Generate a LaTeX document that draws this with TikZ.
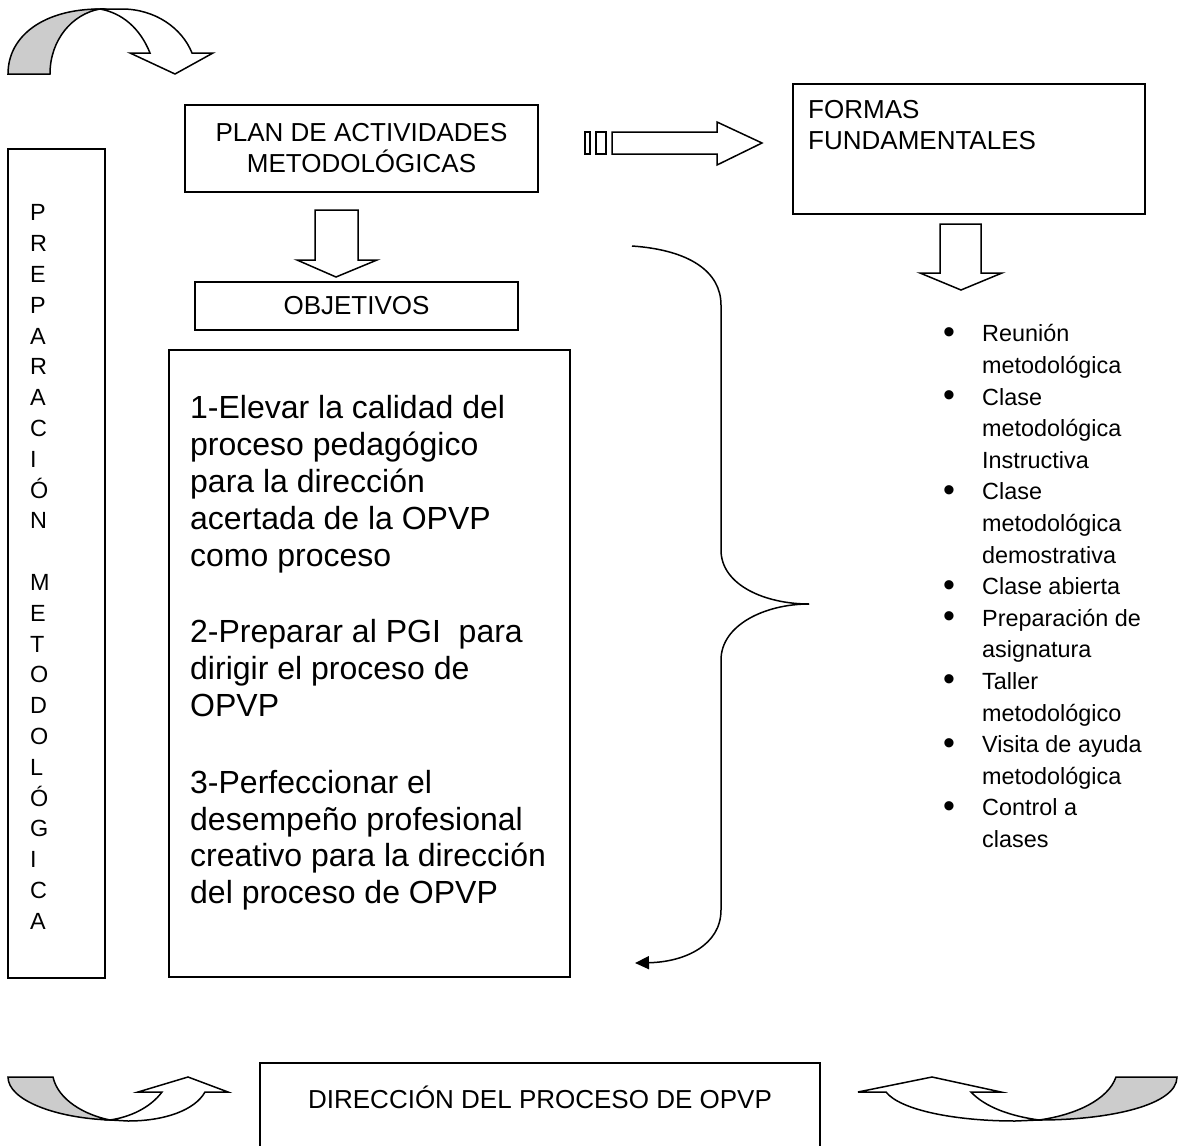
\documentclass[tikz,border=0pt]{standalone}
\usepackage{fontspec}
\usepackage{graphicx}
\setmainfont{Liberation Sans}
\usetikzlibrary{arrows.meta}
\definecolor{ribbon}{RGB}{204,204,204}
\newcommand{\bigbul}{\raisebox{-1.5pt}{\scalebox{1.45}{\textbullet}}}
\tikzset{
  box/.style={draw, line width=1.5pt, inner sep=0pt},
  blockarrow/.style={draw, line width=1.5pt, fill=white, line join=miter},
  curlfill/.style={draw, line width=1.5pt, fill=ribbon},
  curlline/.style={draw, line width=1.5pt, fill=white},
  boxtext/.style={inner sep=0pt, font=\fontsize{26}{31}\selectfont},
  bracepath/.style={line width=1.5pt},
}
\begin{document}
\begin{tikzpicture}[x=1pt,y=-1pt]
\useasboundingbox (0,0) rectangle (1179,1146);

% ---- boxes ----
\node[box, minimum width=353pt, minimum height=87pt, align=center, font=\fontsize{26}{31}\selectfont] (plan) at (361.5,148.5) {PLAN DE ACTIVIDADES\\METODOLÓGICAS};
\node[box, minimum width=323pt, minimum height=48pt, font=\fontsize{26}{31}\selectfont] (obj) at (356.5,306) {OBJETIVOS};
\node[box, minimum width=352pt, minimum height=130pt] (formas) at (969,149) {};
\node[boxtext, anchor=north west, align=left] (formastxt) at (808,100) {FORMAS\\FUNDAMENTALES};
\node[box, minimum width=401pt, minimum height=627pt] (objs) at (369.5,663.5) {};
\node[box, minimum width=97pt, minimum height=829pt] (prep) at (56.5,563.5) {};
\node[box, minimum width=560pt, minimum height=110pt, anchor=north] (dir) at (540,1062) {};
\node[boxtext] (dirtxt) at (540,1097) {DIRECCIÓN DEL PROCESO DE OPVP};

% ---- vertical text ----
\node[inner sep=0pt, anchor=north west, align=left, font=\fontsize{23.4}{30.8}\selectfont] (preptxt) at (30,204.5)
{P\\R\\E\\P\\A\\R\\A\\C\\I\\Ó\\N\\[30.8pt]M\\E\\T\\O\\D\\O\\L\\Ó\\G\\I\\C\\A};

% ---- objectives text ----
\node[inner sep=0pt, anchor=north west, align=left, font=\fontsize{32}{36.8}\selectfont] (objtxt) at (190,395.5)
{1-Elevar la calidad del\\proceso pedagógico\\para la dirección\\acertada de la OPVP\\como proceso\\[40pt]2-Preparar al PGI\ \ para\\dirigir el proceso de\\OPVP\\[40pt]3-Perfeccionar el\\desempeño profesional\\creativo para la dirección\\del proceso de OPVP};

% ---- bullet list ----
\node[inner sep=0pt, anchor=north west, font=\fontsize{23.4}{31.6}\selectfont] (forms) at (943,319.5) {%
\renewcommand\arraystretch{1}%
\begin{tabular}{@{}p{39pt}@{}l@{}}
\bigbul & Reunión\\
 & metodológica\\
\bigbul & Clase\\
 & metodológica\\
 & Instructiva\\
\bigbul & Clase\\
 & metodológica\\
 & demostrativa\\
\bigbul & Clase abierta\\
\bigbul & Preparación de\\
 & asignatura\\
\bigbul & Taller\\
 & metodológico\\
\bigbul & Visita de ayuda\\
 & metodológica\\
\bigbul & Control a\\
 & clases
\end{tabular}};

% ---- block arrows ----
\draw[blockarrow] (315,210) -- (358,210) -- (358,260) -- (377,260) -- (336,277) -- (297,260) -- (315,260) -- cycle;
\draw[blockarrow] (940,224) -- (981,224) -- (981,273) -- (1002,273) -- (961,290) -- (920,273) -- (940,273) -- cycle;
% striped arrow
\draw[blockarrow] (585,132) rectangle (590,154);
\draw[blockarrow] (596,132) rectangle (606,154);
\draw[blockarrow] (612,132) -- (717,132) -- (717,122) -- (762,143) -- (717,165) -- (717,154) -- (612,154) -- cycle;

% ---- brace with arrow ----
\coordinate (bt) at (632,246);
\coordinate (bm) at (809,604);
\coordinate (bb) at (635,963);
\draw[bracepath] (bt) .. controls (690,250) and (721,272) .. (721,305) -- (721,550) .. controls (721,585) and (765,604) .. (bm);
\draw[bracepath, -{Triangle[length=14pt,width=13pt]}] (bm) .. controls (765,604) and (721,625) .. (721,660) -- (721,910) .. controls (721,945) and (685,962) .. (bb);

% ---- top-left curled arrow ----
\draw[curlline] (100,9) -- (122,9) .. controls (155,9) and (182,28) .. (192,53) -- (213,53) -- (175,74) -- (130,53) -- (150,53) .. controls (140,28) and (122,13) .. (100,9) -- cycle;
\draw[curlfill] (8,74) .. controls (8,35) and (45,9) .. (100,9) .. controls (72,14) and (50,40) .. (50,74) -- cycle;

% ---- bottom-left curled arrow ----
\draw[curlline] (110,1120) -- (128,1121) .. controls (165,1121) and (195,1110) .. (205,1092) -- (228,1092) -- (188,1077) -- (138,1092) -- (162,1092) .. controls (150,1108) and (130,1117) .. (110,1120) -- cycle;
\draw[curlfill] (8,1077) -- (53,1077) .. controls (58,1100) and (85,1115) .. (110,1120) .. controls (55,1118) and (8,1100) .. (8,1077) -- cycle;

% ---- bottom-right curled arrow ----
\draw[curlline] (1039,1120) -- (1015,1121) .. controls (955,1121) and (900,1110) .. (886,1092) -- (858,1092) -- (932,1077) -- (1001,1092) -- (971,1092) .. controls (985,1107) and (1010,1116) .. (1039,1120) -- cycle;
\draw[curlfill] (1177,1077) -- (1116,1077) .. controls (1108,1100) and (1075,1115) .. (1039,1120) .. controls (1110,1120) and (1177,1105) .. (1177,1077) -- cycle;
\end{tikzpicture}
\end{document}
